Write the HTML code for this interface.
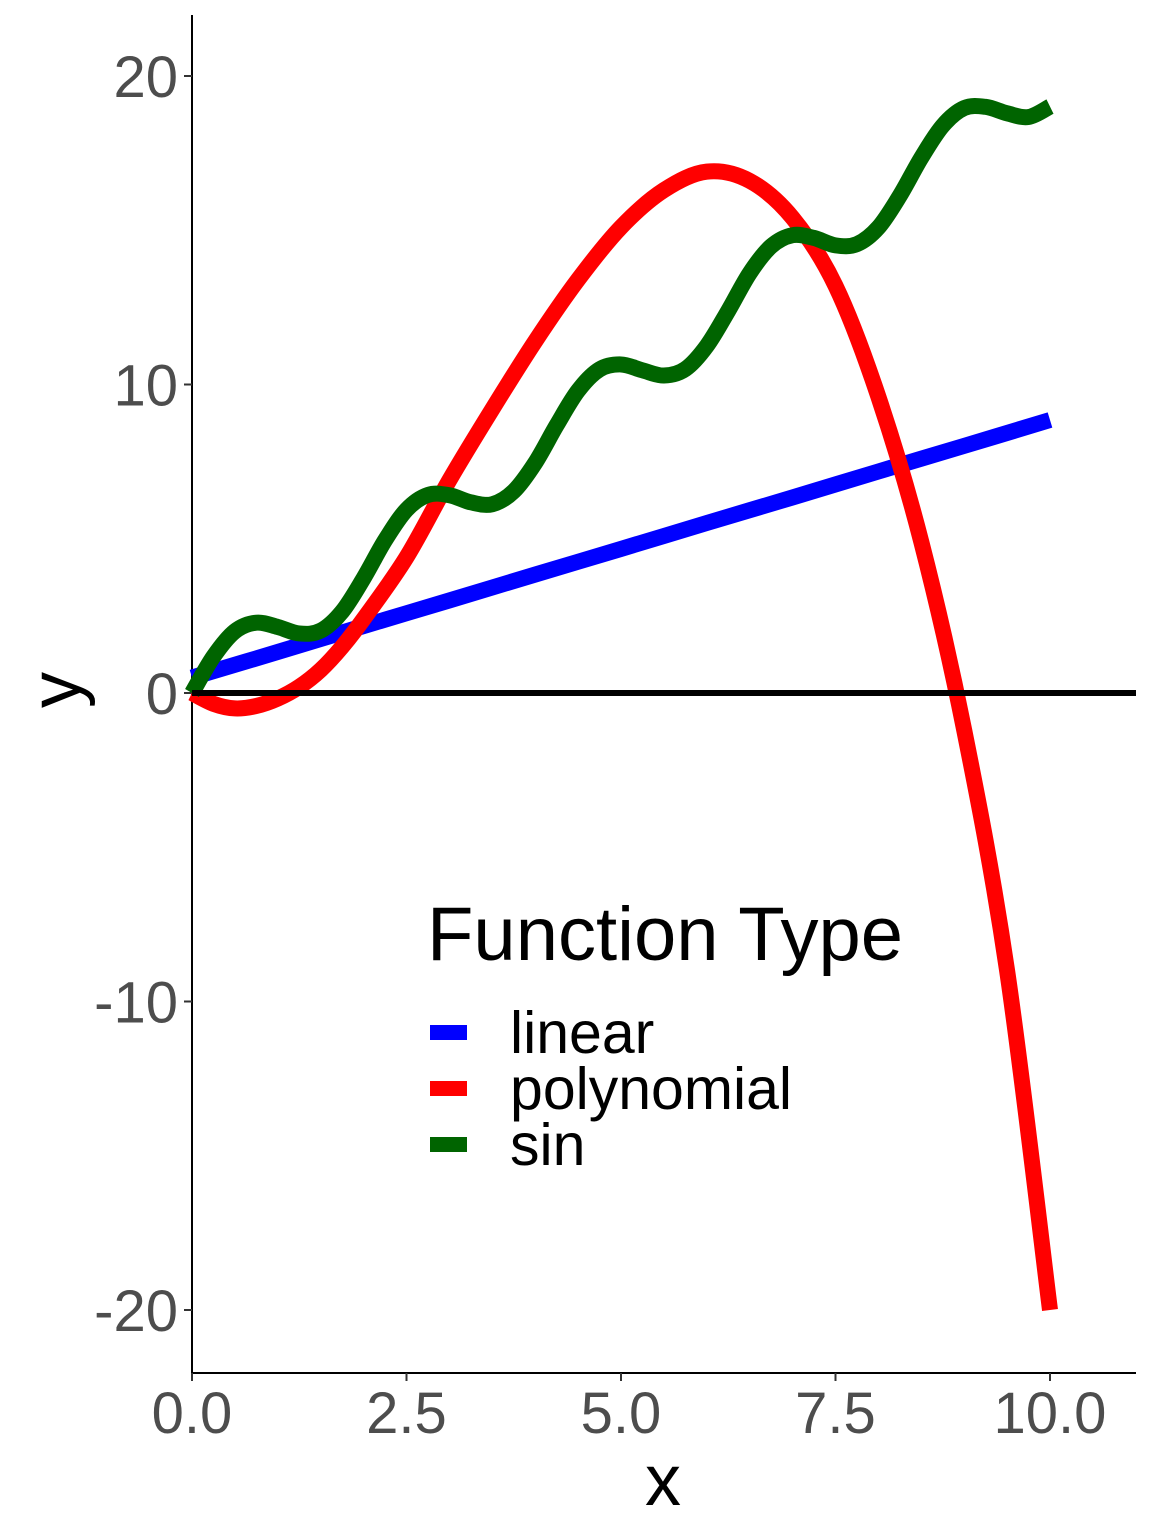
<!DOCTYPE html>
<html><head><meta charset="utf-8"><style>
html,body{margin:0;padding:0;background:#fff;width:1152px;height:1536px;overflow:hidden}
svg text{font-family:"Liberation Sans",Arial,sans-serif}
</style></head><body>
<svg id="chart" width="1152" height="1536" xmlns="http://www.w3.org/2000/svg"></svg>
<script>
const xTicks=[0,2.5,5,7.5,10];
const xTickLabels=["0.0","2.5","5.0","7.5","10.0"];
const yTicks=[-20,-10,0,10,20];
const yTickLabels=["-20","-10","0","10","20"];
const linearX=[0,1,2,3,4,5,6,7,8,9,10];
const linearY=[0.5,1.33,2.17,3.0,3.84,4.67,5.51,6.34,7.18,8.01,8.85];
const polyX=[0,0.25,0.5,0.75,1,1.25,1.5,1.75,2,2.5,3,3.5,4,4.5,5,5.5,6,6.5,7,7.5,8,8.5,9,9.5,10];
const polyY=[0,-0.35,-0.5,-0.42,-0.18,0.2,0.75,1.5,2.4,4.4,6.9,9.2,11.4,13.4,15.1,16.3,16.9,16.6,15.4,13.2,9.6,4.9,-1.2,-9.0,-20];
const sinX=[0,0.25,0.5,0.75,1,1.25,1.5,1.75,2,2.25,2.5,2.75,3,3.25,3.5,3.75,4,4.25,4.5,4.75,5,5.25,5.5,5.75,6,6.25,6.5,6.75,7,7.25,7.5,7.75,8,8.25,8.5,8.75,9,9.25,9.5,9.75,10];
const sinY=[0,1.18,2.0,2.28,2.14,1.93,2.02,2.64,3.72,4.95,5.94,6.42,6.41,6.18,6.12,6.54,7.46,8.68,9.80,10.49,10.65,10.46,10.29,10.50,11.25,12.39,13.61,14.48,14.84,14.75,14.51,14.55,15.09,16.12,17.35,18.39,18.96,19.00,18.79,18.67,19.01];
const legendLabels=["linear","polynomial","sin"];
const colors=["#0000ff","#ff0000","#006400"];

const NS="http://www.w3.org/2000/svg";
const svg=document.getElementById('chart');
const X0=192,XS=85.8,Y0=693,YS=30.85;
function sx(v){return X0+v*XS;}
function sy(v){return Y0-v*YS;}
function mk(tag,attrs,parent){const e=document.createElementNS(NS,tag);for(const k in attrs)e.setAttribute(k,attrs[k]);(parent||svg).appendChild(e);return e;}
function smoothPath(xs,ys){
  const p=xs.map((x,i)=>[sx(x),sy(ys[i])]);
  let d="M"+p[0][0]+","+p[0][1];
  for(let i=0;i<p.length-1;i++){
    const a=p[Math.max(i-1,0)],b=p[i],c=p[i+1],e=p[Math.min(i+2,p.length-1)];
    const c1=[b[0]+(c[0]-a[0])/6,b[1]+(c[1]-a[1])/6];
    const c2=[c[0]-(e[0]-b[0])/6,c[1]-(e[1]-b[1])/6];
    d+=" C"+c1[0]+","+c1[1]+" "+c2[0]+","+c2[1]+" "+c[0]+","+c[1];
  }
  return d;
}
const ax=mk('line',{x1:X0,y1:15,x2:X0,y2:1373,stroke:'#000','stroke-width':2});


const axx=mk('line',{x1:X0,y1:1373,x2:1136,y2:1373,stroke:'#000','stroke-width':2});


xTicks.forEach((t,i)=>{
  const l=mk('line',{x1:sx(t),y1:1373,x2:sx(t),y2:1381,stroke:'#333','stroke-width':2});
  
  
  const tx=mk('text',{x:sx(t),y:1433,'text-anchor':'middle','font-size':58,fill:'#4d4d4d'});
  tx.textContent=xTickLabels[i];
  
  
});
yTicks.forEach((t,i)=>{
  const l=mk('line',{x1:X0-8,y1:sy(t),x2:X0,y2:sy(t),stroke:'#333','stroke-width':2});
  
  
  const tx=mk('text',{x:X0-14,y:sy(t)+21,'text-anchor':'end','font-size':58,fill:'#4d4d4d'});
  tx.textContent=yTickLabels[i];
  
  
});
const xt=mk('text',{x:663,y:1505,'text-anchor':'middle','font-size':72,fill:'#000'});
xt.textContent='x';


const yt=mk('text',{x:0,y:0,'text-anchor':'middle','font-size':72,fill:'#000',transform:'translate(80,690) rotate(-90)'});
yt.textContent='y';


const series=[[linearX,linearY],[polyX,polyY],[sinX,sinY]];
const names=['linear-line','polynomial-line','sin-line'];
series.forEach((s,i)=>{
  const p=mk('path',{d:smoothPath(s[0],s[1]),fill:'none',stroke:colors[i],'stroke-width':16});
  
  
});
const z=mk('line',{x1:X0,y1:sy(0),x2:1136,y2:sy(0),stroke:'#000','stroke-width':6});


const lg=mk('g',{});


const lt=mk('text',{x:427,y:960,'font-size':76,fill:'#000'},lg);
lt.textContent='Function Type';


legendLabels.forEach((n,i)=>{
  const y=1032+i*56;
  const r=mk('rect',{x:430,y:y-7,width:37,height:15,fill:colors[i]},lg);
  
  
  const t=mk('text',{x:510,y:y+21,'font-size':59,fill:'#000'},lg);
  t.textContent=n;
  
  
});
</script>
</body></html>
